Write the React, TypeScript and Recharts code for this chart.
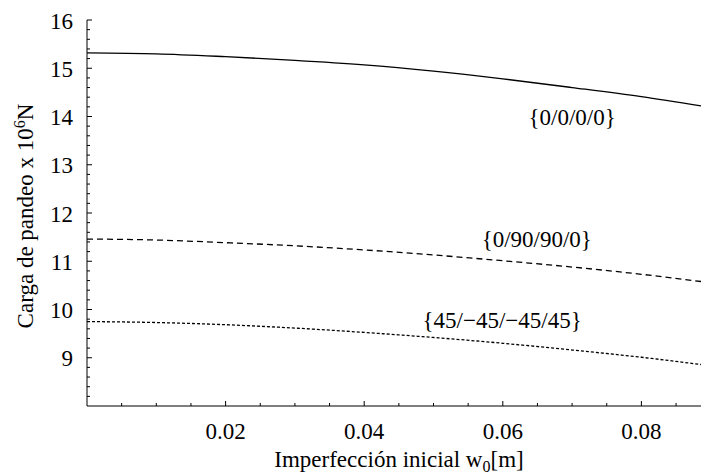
import { LineChart, Line, XAxis, YAxis, ReferenceDot } from "recharts";

const FONT = '"Liberation Serif", "Times New Roman", serif';
const textStyle = { fontFamily: FONT };

// imperfeccion inicial w0 [m]
const wValues = [0, 0.01, 0.02, 0.03, 0.04, 0.05, 0.06, 0.07, 0.08, 0.0886];
// carga de pandeo x 10^6 N
const cargaCross = [15.32, 15.3, 15.24, 15.165, 15.07, 14.94, 14.78, 14.6, 14.41, 14.22];
const cargaOrto = [11.46, 11.44, 11.385, 11.32, 11.235, 11.13, 11.01, 10.88, 10.73, 10.58];
const cargaAngle = [9.75, 9.73, 9.685, 9.615, 9.525, 9.42, 9.3, 9.16, 9.01, 8.86];

const curveLabels = [
  { text: "{0/0/0/0}", x: 0.07, y: 13.99 },
  { text: "{0/90/90/0}", x: 0.0649, y: 11.46 },
  { text: "{45/\u221245/\u221245/45}", x: 0.0599, y: 9.78 },
];

const xTicks: number[] = [];
for (let i = 1; i <= 17; i++) xTicks.push(Number((i * 0.005).toFixed(3)));
const yTicks: number[] = [];
for (let i = 41; i <= 80; i++) yTicks.push(Math.round(i * 2) / 10);

const data = wValues.map((w, i) => ({
  w,
  cross: cargaCross[i],
  orto: cargaOrto[i],
  angle: cargaAngle[i],
}));

const isMajorX = (v: number) => Math.round(v * 1000) % 20 === 0;

function BottomTick(props: any) {
  const { x, y, payload } = props;
  const major = isMajorX(payload.value);
  return (
    <g>
      <line x1={x} x2={x} y1={y} y2={y - (major ? 5 : 3)} stroke="#000" />
      {major && (
        <text x={x} y={y + 33} textAnchor="middle" fontSize={23} style={textStyle} fill="#000">
          {payload.value.toFixed(2)}
        </text>
      )}
    </g>
  );
}

function TopTick(props: any) {
  const { x, y, payload } = props;
  const major = isMajorX(payload.value);
  return <line x1={x} x2={x} y1={y} y2={y + (major ? 5 : 3)} stroke="#000" />;
}

function LeftTick(props: any) {
  const { x, y, payload } = props;
  const major = Number.isInteger(payload.value);
  return (
    <g>
      <line x1={x} x2={x + (major ? 5 : 3)} y1={y} y2={y} stroke="#000" />
      {major && (
        <text
          x={x - 14}
          y={y + 1}
          textAnchor="end"
          dominantBaseline="central"
          fontSize={23}
          style={textStyle}
          fill="#000"
        >
          {payload.value}
        </text>
      )}
    </g>
  );
}

export default function App() {
  return (
    <div
      style={{ position: "absolute", left: 0, top: 0, width: 701, height: 475, background: "#fff", fontFamily: FONT }}
    >
      <LineChart
        width={701}
        height={475}
        data={data}
        margin={{ top: 20, right: 0, bottom: 0, left: 0 }}
        style={textStyle}
      >
        <XAxis
          dataKey="w"
          type="number"
          domain={[0, 0.0886]}
          allowDataOverflow
          ticks={xTicks}
          interval={0}
          height={69}
          tickSize={0}
          tickMargin={0}
          tickLine={false}
          tick={(p: any) => <BottomTick {...p} />}
          axisLine={{ stroke: "#000" }}
          label={{
            content: () => (
              <text x={399} y={467} textAnchor="middle" fontSize={23} style={textStyle} fill="#000">
                Imperfección inicial w
                <tspan dy={5} fontSize={16}>0</tspan>
                <tspan dy={-5}>[m]</tspan>
              </text>
            ),
          }}
        />
        <XAxis
          xAxisId="top"
          orientation="top"
          dataKey="w"
          type="number"
          domain={[0, 0.0886]}
          allowDataOverflow
          ticks={xTicks}
          interval={0}
          height={0}
          tickSize={0}
          tickMargin={0}
          tickLine={false}
          tick={(p: any) => <TopTick {...p} />}
          axisLine={{ stroke: "#000" }}
        />
        <YAxis
          type="number"
          domain={[8, 16]}
          allowDataOverflow
          ticks={yTicks}
          interval={0}
          width={87}
          tickSize={0}
          tickMargin={0}
          tickLine={false}
          tick={(p: any) => <LeftTick {...p} />}
          axisLine={{ stroke: "#000" }}
          label={{
            content: () => (
              <text
                x={33}
                y={216}
                transform="rotate(-90, 33, 216)"
                textAnchor="middle"
                fontSize={23}
                style={textStyle}
                fill="#000"
              >
                Carga de pandeo x 10
                <tspan dy={-8} fontSize={16}>6</tspan>
                <tspan dy={8}>N</tspan>
              </text>
            ),
          }}
        />
        <Line dataKey="cross" type="monotone" stroke="#000" strokeWidth={1.3} dot={false} isAnimationActive={false} />
        <Line
          dataKey="orto"
          type="monotone"
          stroke="#000"
          strokeWidth={1.3}
          strokeDasharray="6 4"
          dot={false}
          isAnimationActive={false}
        />
        <Line
          dataKey="angle"
          type="monotone"
          stroke="#000"
          strokeWidth={1.3}
          strokeDasharray="3 2"
          dot={false}
          isAnimationActive={false}
        />
        {curveLabels.map((l) => (
          <ReferenceDot
            key={l.text}
            x={l.x}
            y={l.y}
            r={0}
            fill="none"
            stroke="none"
            label={{ value: l.text, position: "center", fontSize: 23, style: textStyle, fill: "#000" }}
          />
        ))}
      </LineChart>
    </div>
  );
}
